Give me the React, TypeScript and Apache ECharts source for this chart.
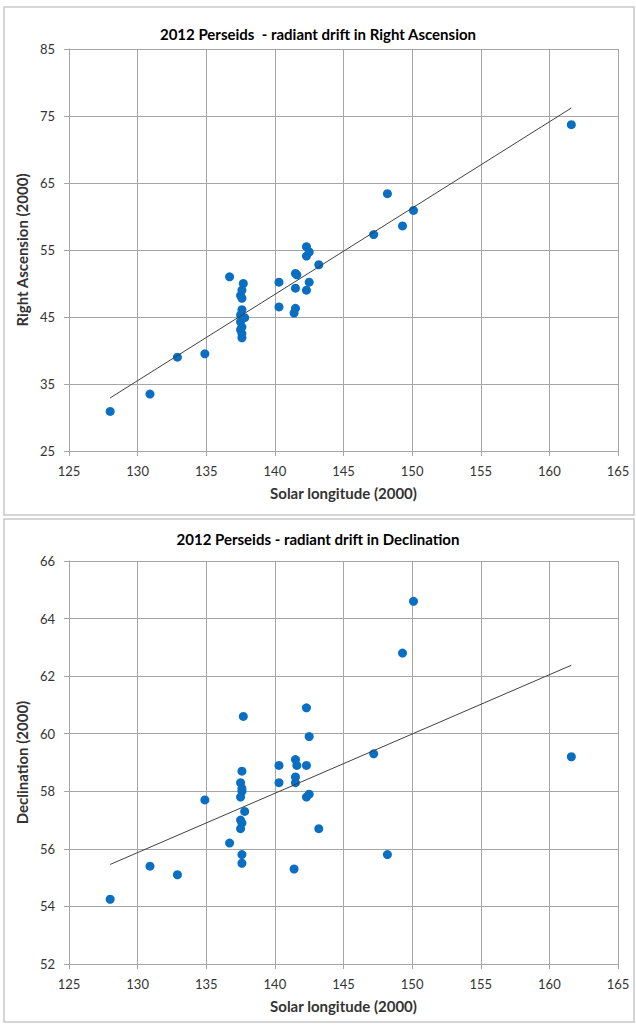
import React, { useEffect, useRef } from "react";
import * as echarts from "echarts";

// Solar longitude (J2000) of each radiant measurement
const solarLongitude = [
  128.0, 130.9, 132.9, 134.9, 136.7,
  137.7, 137.6, 137.5, 137.6, 137.6, 137.5, 137.8, 137.5, 137.6, 137.5, 137.6, 137.6,
  140.3, 140.3,
  141.5, 141.6, 141.5, 141.5, 141.4,
  142.3, 142.5, 142.3, 142.5, 142.3,
  143.2, 147.2, 148.2, 149.3, 150.1, 161.6,
];

// Right Ascension (J2000), degrees
const rightAscension = [
  30.9, 33.5, 39.0, 39.5, 51.0,
  50.0, 49.0, 48.2, 47.8, 46.1, 45.3, 44.9, 44.3, 43.5, 43.1, 42.5, 41.9,
  50.2, 46.5,
  51.5, 51.3, 49.3, 46.3, 45.6,
  55.5, 54.7, 54.1, 50.2, 49.0,
  52.8, 57.3, 63.4, 58.6, 60.9, 73.7,
];

// Declination (J2000), degrees
const declination = [
  54.25, 55.4, 55.1, 57.7, 56.2,
  60.6, 58.7, 58.3, 58.1, 58.0, 57.8, 57.3, 57.0, 56.9, 56.7, 55.8, 55.5,
  58.9, 58.3,
  59.1, 58.9, 58.5, 58.3, 55.3,
  60.9, 59.9, 58.9, 57.9, 57.8,
  56.7, 59.3, 55.8, 62.8, 64.6, 59.2,
];

const xAxisTicks = { min: 125, max: 165, interval: 5 };
const raAxisTicks = { min: 25, max: 85, interval: 10 };
const decAxisTicks = { min: 52, max: 66, interval: 2 };

const titles = [
  "2012 Perseids  - radiant drift in Right Ascension",
  "2012 Perseids - radiant drift in Declination",
];
const xAxisTitle = "Solar longitude (2000)";
const yAxisTitles = ["Right Ascension (2000)", "Declination (2000)"];

function linearFit(xs: number[], ys: number[]) {
  const n = xs.length;
  let sx = 0, sy = 0, sxx = 0, sxy = 0;
  for (let i = 0; i < n; i++) {
    sx += xs[i]; sy += ys[i]; sxx += xs[i] * xs[i]; sxy += xs[i] * ys[i];
  }
  const b = (n * sxy - sx * sy) / (n * sxx - sx * sx);
  const a = (sy - b * sx) / n;
  const x0 = Math.min(...xs);
  const x1 = Math.max(...xs);
  return [[x0, a + b * x0], [x1, a + b * x1]];
}

const FONT = "Lato, 'Open Sans', sans-serif";
const GRID_COLOR = "#a6a6a6";
const LABEL_COLOR = "#333333";
const MARKER_COLOR = "#0a6fc2";

export default function App() {
  const ref = useRef<HTMLDivElement>(null);

  useEffect(() => {
    if (!ref.current) return;
    const chart = echarts.init(ref.current, null, { renderer: "svg" });

    const makeX = (gridIndex: number) => ({
      type: "value",
      gridIndex,
      ...xAxisTicks,
      axisLine: { show: true, onZero: false, lineStyle: { color: GRID_COLOR, width: 1 } },
      axisTick: { show: true, length: 5, lineStyle: { color: GRID_COLOR } },
      splitLine: { show: true, lineStyle: { color: GRID_COLOR, width: 1 } },
      axisLabel: { color: LABEL_COLOR, fontSize: 13, fontFamily: FONT, margin: 13 },
      name: xAxisTitle,
      nameLocation: "middle",
      nameGap: 34,
      nameTextStyle: { color: LABEL_COLOR, fontSize: 15, fontWeight: "bold", fontFamily: FONT },
    });

    const makeY = (gridIndex: number, ticks: any, name: string) => ({
      type: "value",
      gridIndex,
      ...ticks,
      axisLine: { show: true, onZero: false, lineStyle: { color: GRID_COLOR, width: 1 } },
      axisTick: { show: true, length: 5, lineStyle: { color: GRID_COLOR } },
      splitLine: { show: true, lineStyle: { color: GRID_COLOR, width: 1 } },
      axisLabel: { color: LABEL_COLOR, fontSize: 13, fontFamily: FONT, margin: 14 },
      name,
      nameLocation: "middle",
      nameRotate: 90,
      nameGap: 34,
      nameTextStyle: { color: LABEL_COLOR, fontSize: 15, fontWeight: "bold", fontFamily: FONT },
    });

    const raPoints = solarLongitude.map((x, i) => [x, rightAscension[i]]);
    const decPoints = solarLongitude.map((x, i) => [x, declination[i]]);

    chart.setOption({
      animation: false,
      backgroundColor: "#ffffff",
      title: [
        {
          text: titles[0], left: "center", top: 21,
          textStyle: { fontSize: 15, fontWeight: "bold", color: "#000", fontFamily: FONT },
        },
        {
          text: titles[1], left: "center", top: 526,
          textStyle: { fontSize: 15, fontWeight: "bold", color: "#000", fontFamily: FONT },
        },
      ],
      graphic: [
        { type: "rect", shape: { x: 4, y: 7, width: 630, height: 508 }, style: { fill: "none", stroke: "#c8c8c8", lineWidth: 1.5 }, silent: true },
        { type: "rect", shape: { x: 4, y: 519, width: 630, height: 503 }, style: { fill: "none", stroke: "#c8c8c8", lineWidth: 1.5 }, silent: true },
      ],
      grid: [
        { left: 69, top: 49, width: 549, height: 402 },
        { left: 69, top: 561, width: 549, height: 403 },
      ],
      xAxis: [makeX(0), makeX(1)],
      yAxis: [makeY(0, raAxisTicks, yAxisTitles[0]), makeY(1, decAxisTicks, yAxisTitles[1])],
      series: [
        {
          type: "line", xAxisIndex: 0, yAxisIndex: 0,
          data: linearFit(solarLongitude, rightAscension),
          symbol: "none", lineStyle: { color: "#404040", width: 1 }, z: 3,
        },
        {
          type: "scatter", xAxisIndex: 0, yAxisIndex: 0,
          data: raPoints, symbolSize: 9, itemStyle: { color: MARKER_COLOR, opacity: 1 }, z: 2,
        },
        {
          type: "line", xAxisIndex: 1, yAxisIndex: 1,
          data: linearFit(solarLongitude, declination),
          symbol: "none", lineStyle: { color: "#404040", width: 1 }, z: 3,
        },
        {
          type: "scatter", xAxisIndex: 1, yAxisIndex: 1,
          data: decPoints, symbolSize: 9, itemStyle: { color: MARKER_COLOR, opacity: 1 }, z: 2,
        },
      ],
    });

    return () => chart.dispose();
  }, []);

  return (
    <div
      ref={ref}
      style={{ position: "absolute", left: 0, top: 0, width: 636, height: 1026, background: "#fff" }}
    />
  );
}
